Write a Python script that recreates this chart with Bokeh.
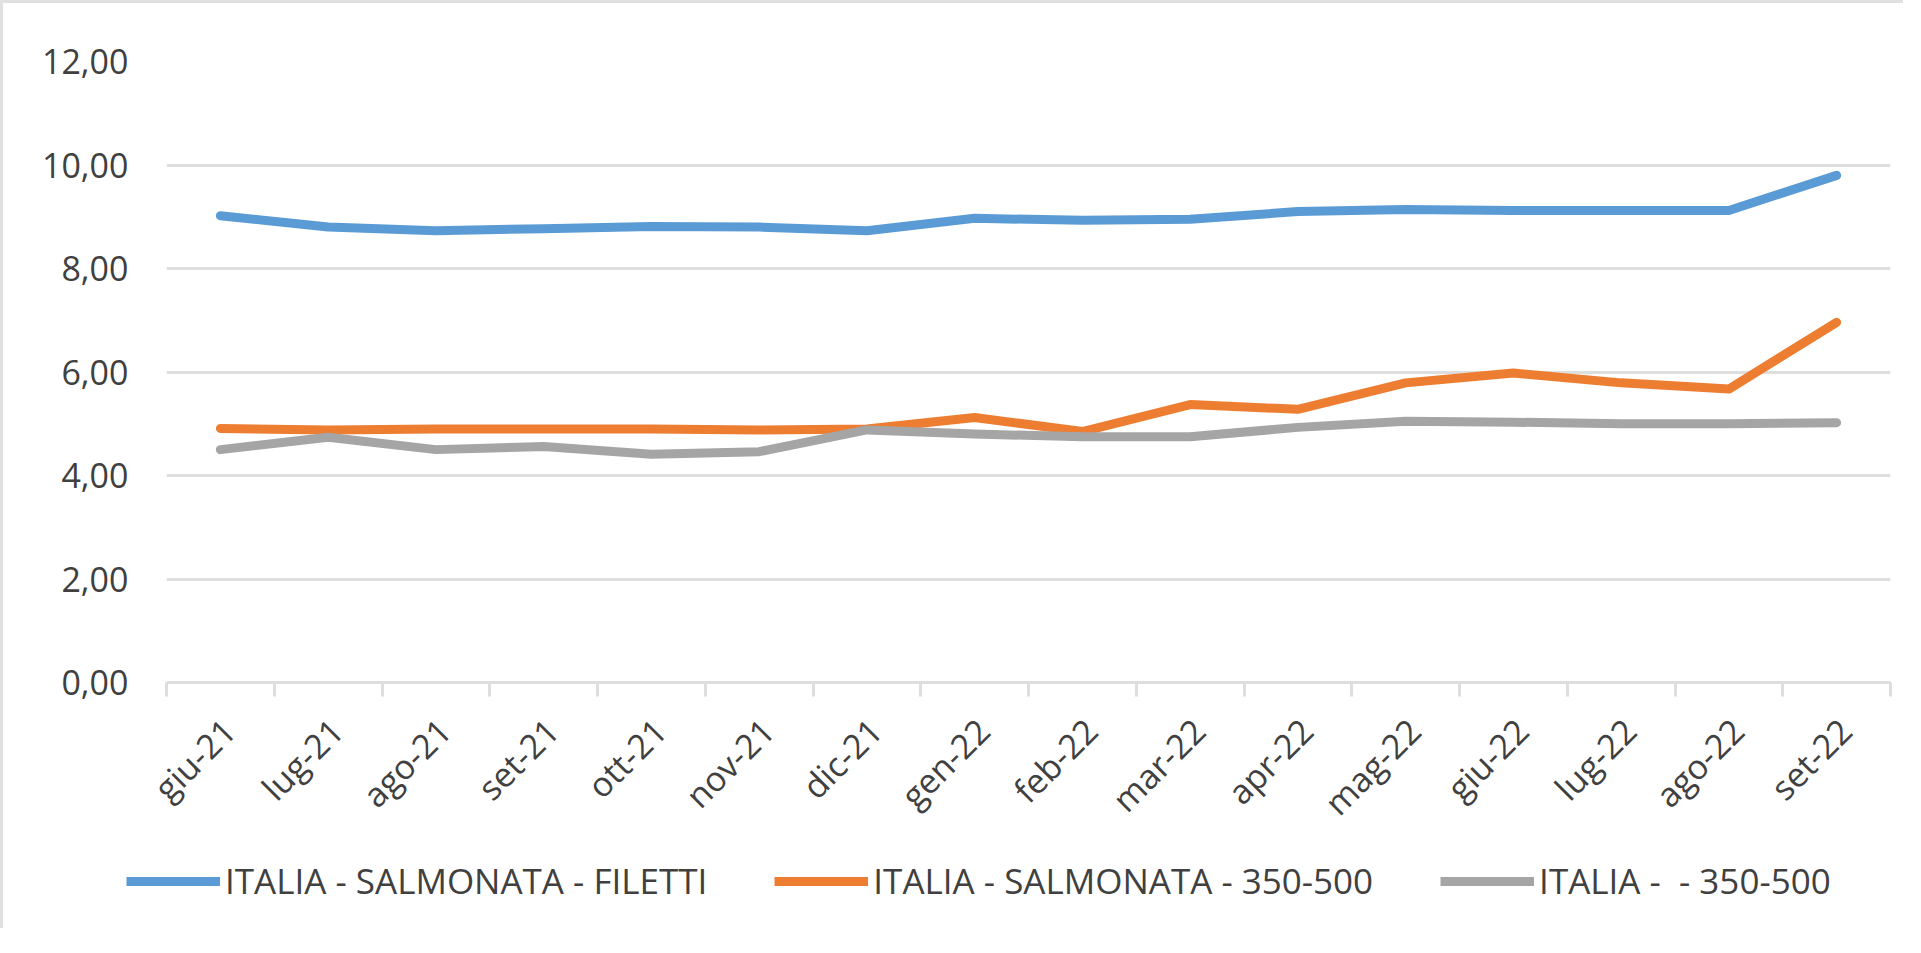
import math
from bokeh.plotting import figure
from bokeh.layouts import column
from bokeh.models import Range1d, FixedTicker, CustomJSTickFormatter, Legend, LegendItem
from bokeh.embed import file_html
from bokeh.resources import INLINE

# ---- data ----
months = ["giu-21", "lug-21", "ago-21", "set-21", "ott-21", "nov-21", "dic-21", "gen-22",
          "feb-22", "mar-22", "apr-22", "mag-22", "giu-22", "lug-22", "ago-22", "set-22"]
salmonata_filetti = [9.02, 8.80, 8.73, 8.77, 8.81, 8.80, 8.73, 8.97,
                     8.93, 8.95, 9.10, 9.14, 9.12, 9.12, 9.12, 9.80]
salmonata_350_500 = [4.91, 4.88, 4.90, 4.90, 4.90, 4.88, 4.90, 5.12,
                     4.85, 5.37, 5.28, 5.79, 5.98, 5.79, 5.67, 6.96]
altro_350_500 = [4.50, 4.74, 4.50, 4.56, 4.41, 4.46, 4.88, 4.80,
                 4.75, 4.75, 4.93, 5.05, 5.03, 5.00, 5.00, 5.02]
series_labels = ["ITALIA - SALMONATA - FILETTI",
                 "ITALIA - SALMONATA - 350-500",
                 "ITALIA -  - 350-500"]
y_ticks = [0, 2, 4, 6, 8, 10, 12]

# ---- style ----
FONT = "Open Sans"
TEXT = "#404040"
GRID = "#DEDEDE"
COLORS = ["#5B9BD5", "#ED7D31", "#A5A5A5"]
LW = 9
W = 1900
LABEL_NUDGE = 0.08  # small horizontal nudge of the rotated month labels

series = [salmonata_filetti, salmonata_350_500, altro_350_500]
x = [i + 0.5 for i in range(len(months))]

p = figure(width=W, height=840, output_backend="svg", toolbar_location=None,
           x_range=Range1d(0, len(months)), y_range=Range1d(0, 12),
           min_border_left=163, min_border_right=13, min_border_top=58, min_border_bottom=161)
p.frame_align = False
p.outline_line_color = None
p.background_fill_color = "white"
p.border_fill_color = "white"

for ys, c in zip(series, COLORS):
    p.line(x, ys, line_color=c, line_width=LW, line_join="round", line_cap="round")

# y axis
p.yaxis.ticker = FixedTicker(ticks=y_ticks)
p.yaxis.formatter = CustomJSTickFormatter(code="return tick.toFixed(2).replace('.', ',');")
p.yaxis.axis_line_color = None
p.yaxis.major_tick_line_color = None
p.yaxis.minor_tick_line_color = None
p.yaxis.major_tick_out = 0
p.yaxis.major_label_standoff = 38
p.yaxis.major_label_text_font = FONT
p.yaxis.major_label_text_font_size = "34px"
p.yaxis.major_label_text_color = TEXT

# x axis: labels at category centres, tick marks at category boundaries
p.xaxis.ticker = FixedTicker(ticks=[v + LABEL_NUDGE for v in x],
                             minor_ticks=list(range(len(months) + 1)))
p.xaxis.formatter = CustomJSTickFormatter(args=dict(labels=months),
                                          code="return labels[Math.floor(tick)];")
p.xaxis.major_tick_line_color = None
p.xaxis.major_tick_out = 0
p.xaxis.minor_tick_line_color = GRID
p.xaxis.minor_tick_line_width = 3
p.xaxis.minor_tick_out = 14
p.xaxis.minor_tick_in = 0
p.xaxis.axis_line_color = GRID
p.xaxis.axis_line_width = 3
p.xaxis.major_label_orientation = math.pi / 4
p.xaxis.major_label_standoff = 28
p.xaxis.major_label_text_font = FONT
p.xaxis.major_label_text_font_size = "34px"
p.xaxis.major_label_text_color = TEXT

p.xgrid.visible = False
p.ygrid.grid_line_color = GRID
p.ygrid.grid_line_width = 3

# ---- legend strip (same series, plotted outside its visible range) ----
q = figure(width=W, height=85, output_backend="svg", toolbar_location=None,
           x_axis_type=None, y_axis_type=None,
           x_range=Range1d(0, len(months)), y_range=Range1d(100, 101),
           min_border=0)
q.frame_align = False
q.outline_line_color = None
q.background_fill_color = "white"
q.border_fill_color = "white"
legend_renderers = [q.line(x, ys, line_color=c, line_width=LW) for ys, c in zip(series, COLORS)]
legend = Legend(items=[LegendItem(label=lab, renderers=[r]) for lab, r in zip(series_labels, legend_renderers)],
                orientation="horizontal", location=(123, 24),
                label_text_font=FONT, label_text_font_size="35px", label_text_color=TEXT,
                glyph_width=94, glyph_height=42, label_height=42, label_standoff=5, spacing=67,
                padding=0, margin=0, border_line_color=None, background_fill_color=None)
q.add_layout(legend, "center")

layout = column(p, q, spacing=0)
layout.styles = {"border-left": "3px solid #E0E0E0", "border-top": "3px solid #E0E0E0"}

open("out.html", "w").write(file_html(layout, INLINE))
